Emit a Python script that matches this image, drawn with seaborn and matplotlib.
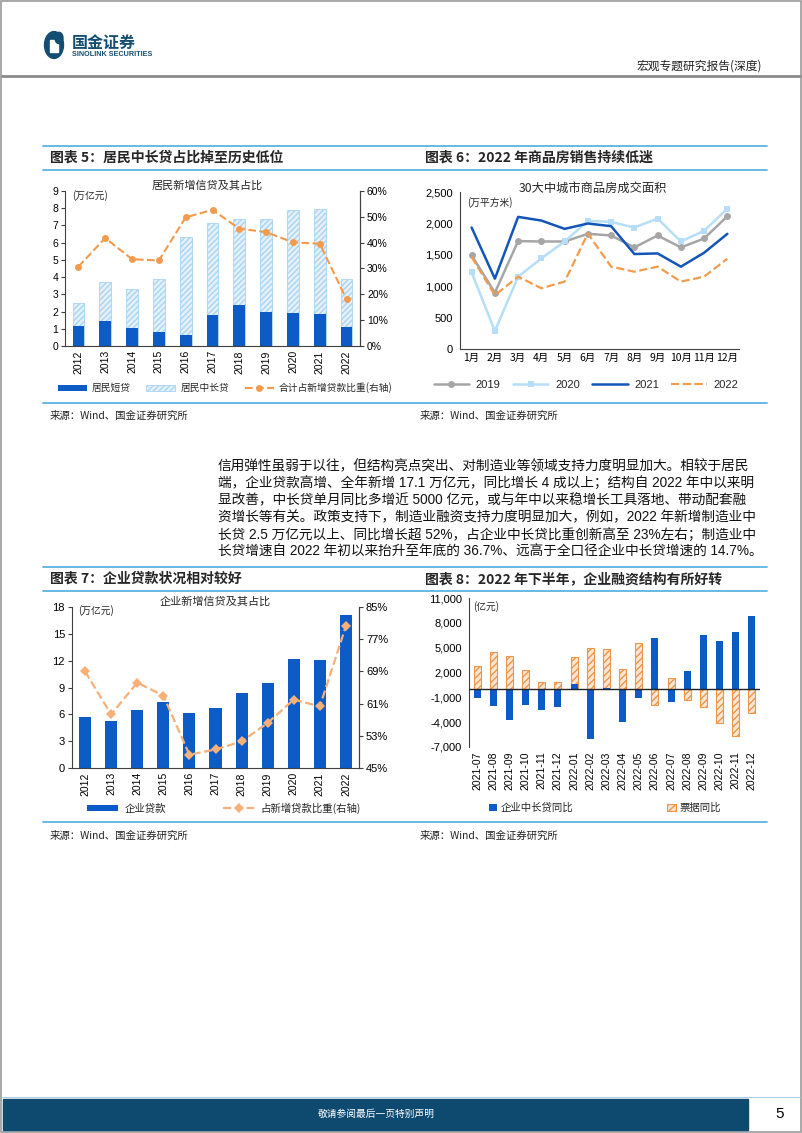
import numpy as np
import matplotlib
matplotlib.use('Agg')
import matplotlib.pyplot as plt
import seaborn as sns
from matplotlib.patches import Patch, Rectangle, Circle
from matplotlib.lines import Line2D
import matplotlib.ticker as mticker

# ---------------- data ----------------
years = ['2012', '2013', '2014', '2015', '2016', '2017', '2018', '2019', '2020', '2021', '2022']
hh_short = [1.18, 1.45, 1.05, 0.80, 0.64, 1.82, 2.36, 1.96, 1.90, 1.84, 1.09]
hh_long = [1.34, 2.25, 2.25, 3.10, 5.68, 5.31, 5.00, 5.44, 5.99, 6.09, 2.79]
hh_share = [30.7, 41.8, 33.6, 33.1, 49.8, 52.7, 45.4, 44.1, 40.1, 39.6, 18.0]

months = ['1月', '2月', '3月', '4月', '5月', '6月', '7月', '8月', '9月', '10月', '11月', '12月']
sales_2019 = [1490, 898, 1718, 1712, 1712, 1834, 1808, 1617, 1808, 1617, 1760, 2114]
sales_2020 = [1221, 285, 1152, 1443, 1712, 2040, 2024, 1934, 2077, 1712, 1882, 2236]
sales_2021 = [1934, 1120, 2104, 2045, 1913, 1998, 1956, 1512, 1522, 1311, 1533, 1834]
sales_2022 = [1464, 856, 1152, 967, 1073, 1839, 1311, 1231, 1311, 1073, 1152, 1438]

corp_loans = [5.67, 5.22, 6.53, 7.43, 6.16, 6.75, 8.36, 9.51, 12.24, 12.05, 17.09]
corp_share = [69.0, 58.3, 66.2, 63.0, 48.3, 49.6, 51.6, 56.2, 62.0, 60.3, 80.3]

ym = ['2021-07', '2021-08', '2021-09', '2021-10', '2021-11', '2021-12',
      '2022-01', '2022-02', '2022-03', '2022-04', '2022-05', '2022-06',
      '2022-07', '2022-08', '2022-09', '2022-10', '2022-11', '2022-12']
mlt_yoy = [-1100, -2100, -3780, -1970, -2530, -2130, 570, -6000, 100, -3990, -1040, 6200,
           -1530, 2180, 6570, 5850, 6940, 8790]
bill_yoy = [2820, 4500, 4030, 2340, 850, 810, 3260, 5000, 4780, 2460, 5600, -1970,
            1370, -1280, -2210, -4140, -5630, -2930]

paragraph = [
    "信用弹性虽弱于以往，但结构亮点突出、对制造业等领域支持力度明显加大。相较于居民",
    "端，企业贷款高增、全年新增 17.1 万亿元，同比增长 4 成以上；结构自 2022 年中以来明",
    "显改善，中长贷单月同比多增近 5000 亿元，或与年中以来稳增长工具落地、带动配套融",
    "资增长等有关。政策支持下，制造业融资支持力度明显加大，例如，2022 年新增制造业中",
    "长贷 2.5 万亿元以上、同比增长超 52%，占企业中长贷比重创新高至 23%左右；制造业中",
    "长贷增速自 2022 年初以来抬升至年底的 36.7%、远高于全口径企业中长贷增速的 14.7%。",
]

# ---------------- style ----------------
sns.set_theme(style='white')
plt.rcParams['font.family'] = ['Liberation Sans', 'Noto Sans CJK SC', 'DejaVu Sans']
plt.rcParams['hatch.linewidth'] = 1.0
plt.rcParams['axes.unicode_minus'] = False

W, H = 802, 1133
fig = plt.figure(figsize=(W / 100, H / 100), dpi=100)
fig.patch.set_facecolor('white')


def fx(x):
    return x / W


def fy(y):
    return 1 - y / H


def add_ax(left, top, right, bottom):
    return fig.add_axes([fx(left), fy(bottom), (right - left) / W, (bottom - top) / H])


def hline(y, x0, x1, color, lw):
    fig.add_artist(Line2D([fx(x0), fx(x1)], [fy(y), fy(y)], color=color, lw=lw,
                          transform=fig.transFigure))


AX = '#404040'
BLUE = '#0D5BC6'
ORANGE = '#F39B4C'
RULE = '#5AB4E0'
CJK = ['Noto Sans CJK SC', 'Liberation Sans']
TXT = ['Liberation Sans', 'Noto Sans CJK SC']


def style_axis(ax, right=False):
    for s in ['top', 'right', 'left', 'bottom']:
        ax.spines[s].set_visible(False)
    ax.spines['left'].set_visible(True)
    ax.spines['bottom'].set_visible(True)
    if right:
        ax.spines['right'].set_visible(True)
    for s in ax.spines.values():
        s.set_color(AX)
        s.set_linewidth(0.8)
    ax.grid(False)
    ax.set_facecolor('none')


def cat_ticks(ax, n, rot=90, fs=7.5):
    ax.set_xlim(-0.5, n - 0.5)
    ax.set_xticks(np.arange(n))
    ax.set_xticks(np.arange(n + 1) - 0.5, minor=True)
    ax.tick_params(axis='x', which='major', length=0, labelsize=fs, rotation=rot, pad=3, colors='black')
    ax.tick_params(axis='x', which='minor', length=4, width=0.8, color=AX, direction='out')


# ---------------- page frame / header / footer ----------------
fig.add_artist(Rectangle((0.0015, 0.001), 0.997, 0.998, transform=fig.transFigure,
                         fill=False, edgecolor='#9a9a9a', lw=1.2))
# logo
NAVY = '#134E72'
fig.add_artist(Circle((fx(54), fy(45)), 9.5 / W, transform=fig.transFigure, color=NAVY))
fig.add_artist(Rectangle((fx(50), fy(52)), 8 / W, 12 / H, transform=fig.transFigure, color='white'))
fig.add_artist(Circle((fx(59), fy(38)), 4.0 / W, transform=fig.transFigure, color=NAVY))
fig.text(fx(72), fy(43), '国金证券', fontsize=11.5, fontweight='bold', color=NAVY,
         family=CJK, va='center', ha='left')
fig.text(fx(72), fy(55), 'SINOLINK SECURITIES', fontsize=5.2, fontweight='bold', color=NAVY,
         family=TXT, va='center', ha='left')
fig.text(fx(762), fy(66), '宏观专题研究报告(深度)', fontsize=8.5, color='#222222',
         family=CJK, va='center', ha='right')
hline(76, 2, 800, '#8a8a8a', 2.0)

# footer
fig.add_artist(Line2D([fx(2), fx(800)], [fy(1097), fy(1097)], color='#a9cde3', lw=0.8,
                      transform=fig.transFigure))
fig.add_artist(Rectangle((fx(3), fy(1130)), (748 - 3) / W, 31 / H, transform=fig.transFigure,
                         color='#0E4A6F'))
fig.text(fx(376), fy(1114), '敬请参阅最后一页特别声明', fontsize=7, color='white',
         family=CJK, ha='center', va='center')
fig.text(fx(780), fy(1114), '5', fontsize=11, color='black', family=TXT, ha='center', va='center')

# section rules and titles
for y in [146, 170, 403, 567, 591, 822]:
    hline(y, 43, 767, RULE, 1.3)

fig.text(fx(50), fy(158), '图表 5：居民中长贷占比掉至历史低位', fontsize=10, fontweight='bold',
         family=CJK, va='center', ha='left', style='italic')
fig.text(fx(425), fy(158), '图表 6：2022 年商品房销售持续低迷', fontsize=10, fontweight='bold',
         family=CJK, va='center', ha='left', style='italic')
fig.text(fx(50), fy(579), '图表 7：企业贷款状况相对较好', fontsize=10, fontweight='bold',
         family=CJK, va='center', ha='left', style='italic')
fig.text(fx(425), fy(579), '图表 8：2022 年下半年，企业融资结构有所好转', fontsize=10, fontweight='bold',
         family=CJK, va='center', ha='left', style='italic')
for (x, y) in [(50, 416), (420, 416), (50, 836), (420, 836)]:
    fig.text(fx(x), fy(y), '来源：Wind、国金证券研究所', fontsize=7.5, family=CJK,
             va='center', ha='left', color='#222222')

# paragraph
for i, line in enumerate(paragraph):
    fig.text(fx(218), fy(466 + i * 17.2), line, fontsize=9.85, family=TXT,
             va='center', ha='left', color='#111111')

# ---------------- chart 5 ----------------
ax5 = add_ax(65, 191, 360, 346)
hh_total = list(np.array(hh_short) + np.array(hh_long))
sns.barplot(x=years, y=hh_total, ax=ax5, color='#E4F1FB', saturation=1, width=0.44,
            hatch='//////', edgecolor='#A9D4F2', linewidth=0.6)
sns.barplot(x=years, y=hh_short, ax=ax5, color=BLUE, saturation=1, width=0.44, linewidth=0)
style_axis(ax5, right=True)
cat_ticks(ax5, len(years))
ax5.set_ylim(0, 9)
ax5.set_yticks(np.arange(0, 10, 1))
ax5.tick_params(axis='y', length=3, width=0.8, color=AX, labelsize=7.5, pad=2, colors='black')
ax5.set_xlabel('')
ax5.set_ylabel('')
ax5b = ax5.twinx()
sns.lineplot(x=np.arange(len(years)), y=hh_share, ax=ax5b, color=ORANGE, linestyle='--',
             lw=1.5, marker='o', markersize=5, markeredgewidth=0)
ax5b.set_ylim(0, 60)
ax5b.set_yticks(np.arange(0, 61, 10))
ax5b.yaxis.set_major_formatter(mticker.FuncFormatter(lambda v, p: f'{v:.0f}%'))
ax5b.tick_params(axis='y', length=3, width=0.8, color=AX, labelsize=7.5, pad=2, colors='black')
for s in ['top', 'left', 'bottom']:
    ax5b.spines[s].set_visible(False)
ax5b.spines['right'].set_color(AX)
ax5b.spines['right'].set_linewidth(0.8)
ax5b.set_xlim(-0.5, len(years) - 0.5)
ax5b.set_ylabel('')
ax5b.grid(False)
fig.text(fx(207), fy(186), '居民新增信贷及其占比', fontsize=8, family=CJK, ha='center', va='center')
fig.text(fx(72), fy(196), '(万亿元)', fontsize=7, family=CJK, ha='left', va='center')
h5 = [Patch(facecolor=BLUE, edgecolor='none'),
      Patch(facecolor='#E4F1FB', edgecolor='#A9D4F2', hatch='//////', lw=0.6),
      Line2D([], [], color=ORANGE, ls='--', lw=1.5, marker='o', markersize=5, markeredgewidth=0)]
fig.legend(h5, ['居民短贷', '居民中长贷', '合计占新增贷款比重(右轴)'], loc='center',
           bbox_to_anchor=(fx(225), fy(388)), ncol=3, frameon=False, fontsize=7,
           handlelength=3.0, handleheight=0.55, columnspacing=1.6, handletextpad=0.5,
           prop={'family': CJK, 'size': 7})

# ---------------- chart 6 ----------------
ax6 = add_ax(460, 192, 739, 349)
xm = np.arange(len(months))
sns.lineplot(x=xm, y=sales_2019, ax=ax6, color='#A6A6A6', lw=1.8, marker='o', markersize=5,
             markeredgewidth=0, label='2019')
sns.lineplot(x=xm, y=sales_2020, ax=ax6, color='#B6DEF8', lw=1.8, marker='s', markersize=5,
             markeredgewidth=0, label='2020')
sns.lineplot(x=xm, y=sales_2021, ax=ax6, color='#1456B8', lw=1.8, label='2021')
sns.lineplot(x=xm, y=sales_2022, ax=ax6, color=ORANGE, lw=1.6, linestyle='--', label='2022')
style_axis(ax6)
cat_ticks(ax6, len(months), rot=0, fs=7.5)
ax6.set_xticklabels(months, family=CJK)
ax6.set_ylim(0, 2500)
ax6.set_yticks(np.arange(0, 2501, 500))
ax6.yaxis.set_major_formatter(mticker.FuncFormatter(lambda v, p: f'{v:,.0f}'))
ax6.tick_params(axis='y', length=3, width=0.8, color=AX, labelsize=8, pad=2, colors='black')
ax6.set_xlabel('')
ax6.set_ylabel('')
h6, l6 = ax6.get_legend_handles_labels()
ax6.get_legend().remove()
fig.legend(h6, l6, loc='center', bbox_to_anchor=(fx(586), fy(385)), ncol=4, frameon=False,
           fontsize=8, handlelength=3.2, columnspacing=1.1, handletextpad=0.6)
fig.text(fx(593), fy(188), '30大中城市商品房成交面积', fontsize=8.8, family=CJK,
         ha='center', va='center')
fig.text(fx(467), fy(203), '(万平方米)', fontsize=7, family=CJK, ha='left', va='center')

# ---------------- chart 7 ----------------
ax7 = add_ax(72, 607, 359, 768)
sns.barplot(x=years, y=corp_loans, ax=ax7, color=BLUE, saturation=1, width=0.46, linewidth=0)
style_axis(ax7, right=True)
cat_ticks(ax7, len(years))
ax7.set_ylim(0, 18)
ax7.set_yticks(np.arange(0, 19, 3))
ax7.tick_params(axis='y', length=3, width=0.8, color=AX, labelsize=8, pad=2, colors='black')
ax7.set_xlabel('')
ax7.set_ylabel('')
ax7b = ax7.twinx()
sns.lineplot(x=np.arange(len(years)), y=corp_share, ax=ax7b, color='#F6B078', linestyle='--',
             lw=1.6, marker='D', markersize=5, markeredgewidth=0)
ax7b.set_ylim(45, 85)
ax7b.set_yticks(np.arange(45, 86, 8))
ax7b.yaxis.set_major_formatter(mticker.FuncFormatter(lambda v, p: f'{v:.0f}%'))
ax7b.tick_params(axis='y', length=3, width=0.8, color=AX, labelsize=8, pad=2, colors='black')
for s in ['top', 'left', 'bottom']:
    ax7b.spines[s].set_visible(False)
ax7b.spines['right'].set_color(AX)
ax7b.spines['right'].set_linewidth(0.8)
ax7b.set_xlim(-0.5, len(years) - 0.5)
ax7b.set_ylabel('')
ax7b.grid(False)
fig.text(fx(215), fy(602), '企业新增信贷及其占比', fontsize=8, family=CJK, ha='center', va='center')
fig.text(fx(78), fy(611), '(万亿元)', fontsize=7, family=CJK, ha='left', va='center')
h7 = [Patch(facecolor=BLUE, edgecolor='none'),
      Line2D([], [], color='#F6B078', ls='--', lw=1.6, marker='D', markersize=5, markeredgewidth=0)]
fig.legend(h7, ['企业贷款', '占新增贷款比重(右轴)'], loc='center',
           bbox_to_anchor=(fx(224), fy(808)), ncol=2, frameon=False,
           handlelength=3.0, handleheight=0.55, columnspacing=5.5, handletextpad=0.6,
           prop={'family': CJK, 'size': 7.5})

# ---------------- chart 8 ----------------
ax8 = add_ax(469, 598, 760, 747)
mlt = np.array(mlt_yoy)
bill = np.array(bill_yoy)
bill_base = np.where(np.sign(mlt) == np.sign(bill), mlt, 0)
bill_top = bill + bill_base
sns.barplot(x=ym, y=bill_top, ax=ax8, color='#FDE6D2', saturation=1, width=0.44,
            hatch='/////', edgecolor='#F0964A', linewidth=0.8)
sns.barplot(x=ym, y=mlt, ax=ax8, color=BLUE, saturation=1, width=0.44, linewidth=0)
for s in ['top', 'right', 'bottom']:
    ax8.spines[s].set_visible(False)
ax8.spines['left'].set_color(AX)
ax8.spines['left'].set_linewidth(0.8)
ax8.grid(False)
ax8.axhline(0, color='#222222', lw=1.0, zorder=5)
ax8.set_xlim(-0.5, len(ym) - 0.5)
ax8.set_ylim(-7000, 11000)
ax8.set_yticks(np.arange(-7000, 11001, 3000))
ax8.yaxis.set_major_formatter(mticker.FuncFormatter(lambda v, p: f'{v:,.0f}'))
ax8.tick_params(axis='y', length=3, width=0.8, color=AX, labelsize=8, pad=2, colors='black')
ax8.tick_params(axis='x', length=0, labelsize=7.5, rotation=90, pad=3, colors='black')
ax8.set_xlabel('')
ax8.set_ylabel('')
fig.text(fx(473), fy(607), '(亿元)', fontsize=7, family=CJK, ha='left', va='center')
h8 = [Patch(facecolor=BLUE, edgecolor='none'),
      Patch(facecolor='#FDE6D2', edgecolor='#F0964A', hatch='/////', lw=0.8)]
fig.legend(h8, ['企业中长贷同比', '票据同比'], loc='center',
           bbox_to_anchor=(fx(605), fy(808)), ncol=2, frameon=False,
           handlelength=0.8, handleheight=0.8, columnspacing=9.0, handletextpad=0.4,
           prop={'family': CJK, 'size': 7.5})

fig.savefig('out.png', dpi=100, facecolor='white')
